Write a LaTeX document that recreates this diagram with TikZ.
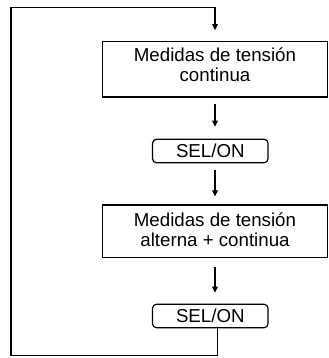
\documentclass[tikz,border=0pt]{standalone}
\usepackage{fontspec}
\setmainfont{Liberation Sans}
\usetikzlibrary{arrows.meta,calc}
\begin{document}
\begin{tikzpicture}[x=1bp,y=-1bp,line width=1.2bp,
  every node/.style={font=\fontsize{18.7bp}{19.5bp}\selectfont},
  boxframe/.style={draw,rectangle,minimum width=225bp,inner sep=0pt},
  txt/.style={align=center,inner sep=0pt},
  selbox/.style={draw,rectangle,rounded corners=4bp,minimum width=115.5bp,minimum height=23.5bp,inner sep=0pt},
  arr/.style={-{Triangle[length=6bp,width=5.5bp]}}]
\useasboundingbox (0,0) rectangle (329,358);
\node[boxframe,minimum height=55.3bp] (box1) at (215,69.4) {};
\node[txt] (t1) at (215,64.6) {Medidas de tensión\\continua};
\node[selbox] (sel1) at (210.3,151) {SEL/ON};
\node[boxframe,minimum height=52.3bp] (box2) at (215,231.2) {};
\node[txt] (t2) at (215,229.8) {Medidas de tensión\\alterna + continua};
\node[selbox] (sel2) at (210.3,316) {SEL/ON};
\coordinate (tl) at (11,7.5);
\coordinate (bl) at (11,355.5);
\coordinate (br) at (217.5,355.5);
\draw[arr] ($(box1.south)+(0,6)$) -- ($(box1.south |- sel1.north)+(0,-12)$);
\draw[arr] ($(box1.south |- sel1.south)+(0,7)$) -- ($(box2.north)+(0,-8)$);
\draw[arr] ($(box2.south)+(0,9)$) -- ($(box2.south |- sel2.north)+(0,-11)$);
\draw[arr] (sel2.south -| br) -- (br) -- (bl) -- (tl) -- (tl -| box1.north) -- ($(box1.north)+(0,-11)$);
\end{tikzpicture}
\end{document}
